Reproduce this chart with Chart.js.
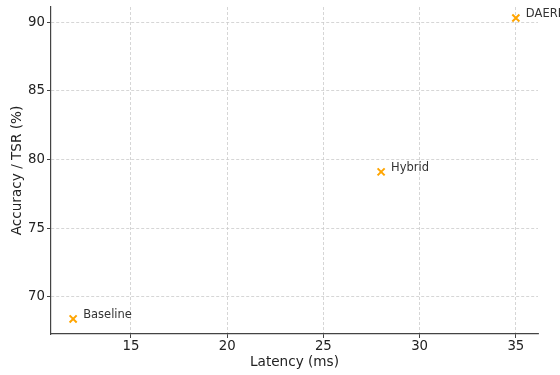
<!DOCTYPE html>
<html><head><meta charset="utf-8">
<script src="https://cdn.jsdelivr.net/npm/chart.js@4.4.0/dist/chart.umd.min.js"></script>
<style>html,body{margin:0;padding:0;background:#fff}#wrap{width:560px;height:375px}</style>
</head><body><div id="wrap"><canvas id="c" width="560" height="375"></canvas></div>
<script>
const methods = ["Baseline", "Hybrid", "DAERL"];
const latency = [12, 28, 35];
const accuracy = [68.4, 79.1, 90.3];
const xTicks = [15, 20, 25, 30, 35];
const yTicks = [70, 75, 80, 85, 90];

const FONT = "'DejaVu Sans', sans-serif";
const pts = methods.map((m, i) => ({x: latency[i], y: accuracy[i], label: m}));

function noPad(a) {
  a._calculatePadding = function () {
    this.paddingTop = 0; this.paddingBottom = 0; this.paddingLeft = 0; this.paddingRight = 0;
  };
}

const labelPlugin = {
  id: 'pointLabels',
  afterDatasetsDraw(chart) {
    const ctx = chart.ctx;
    const xs = chart.scales.x, ys = chart.scales.y;
    ctx.save();
    ctx.font = "11.5px " + FONT;
    ctx.fillStyle = '#333';
    ctx.textBaseline = 'middle';
    ctx.textAlign = 'left';
    pts.forEach(p => {
      ctx.fillText(p.label, xs.getPixelForValue(p.x) + 10, ys.getPixelForValue(p.y) - 4);
    });
    ctx.restore();
  }
};

new Chart(document.getElementById('c'), {
  type: 'scatter',
  data: { datasets: [{
    data: pts,
    pointStyle: 'crossRot',
    pointRadius: 5,
    pointHoverRadius: 5,
    borderColor: '#FFA500',
    backgroundColor: '#FFA500',
    pointBorderWidth: 2
  }]},
  options: {
    responsive: false,
    animation: false,
    events: [],
    layout: { padding: { top: 2, right: 22, left: 0, bottom: 0 } },
    plugins: { legend: { display: false }, tooltip: { enabled: false } },
    scales: {
      x: {
        type: 'linear', min: 10.85, max: 36.15,
        afterBuildTicks: a => { a.ticks = xTicks.map(v => ({value: v})); },
        beforeFit: noPad,
        afterFit: a => { a.height = 41; },
        ticks: { font: { family: FONT, size: 13.3 }, color: '#222', padding: 1, maxRotation: 0 },
        grid: { color: '#cccccc', lineWidth: 0.8, tickColor: '#444', tickLength: 4, tickWidth: 1, tickBorderDash: [] },
        border: { display: true, color: '#444', width: 1.2, dash: [3, 2] },
        title: { display: true, text: 'Latency (ms)', font: { family: FONT, size: 13.6 }, color: '#222', padding: { top: 0, bottom: 4 } }
      },
      y: {
        type: 'linear', min: 67.3, max: 91.1,
        afterBuildTicks: a => { a.ticks = yTicks.map(v => ({value: v})); },
        beforeFit: noPad,
        afterFit: a => { a.width = 51; },
        ticks: { font: { family: FONT, size: 13.3 }, color: '#222', padding: 2 },
        grid: { color: '#cccccc', lineWidth: 0.8, tickColor: '#444', tickLength: 4, tickWidth: 1, tickBorderDash: [] },
        border: { display: true, color: '#444', width: 1.2, dash: [3, 2] },
        title: { display: true, text: 'Accuracy / TSR (%)', font: { family: FONT, size: 13.6 }, color: '#222', padding: { top: 9, bottom: 0 } }
      }
    }
  },
  plugins: [labelPlugin]
});
</script></body></html>
